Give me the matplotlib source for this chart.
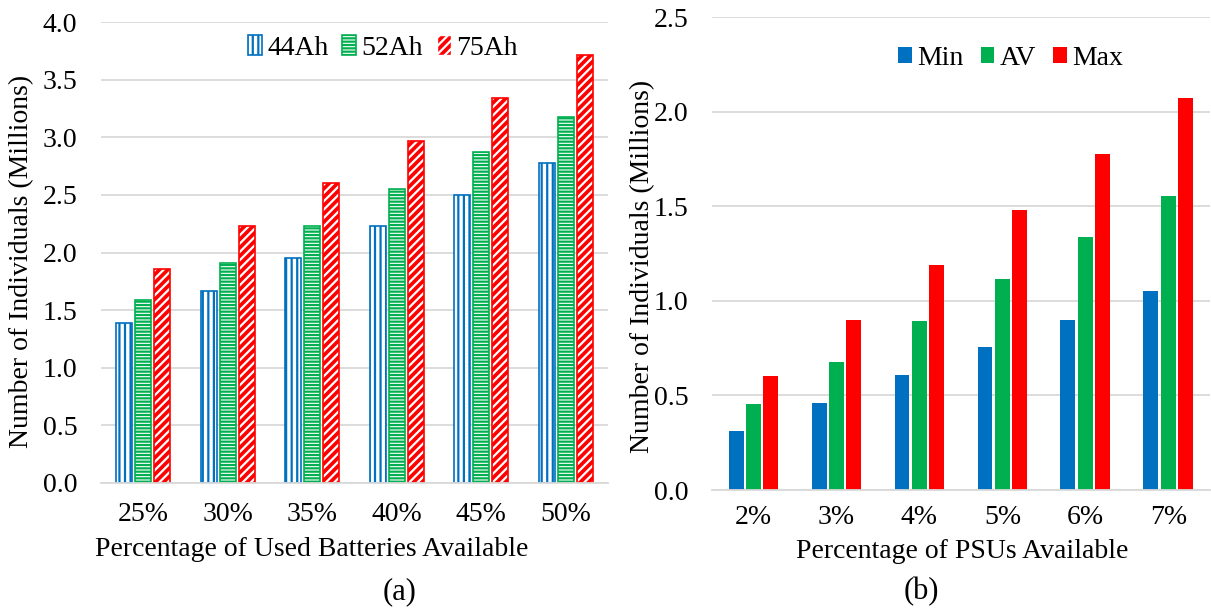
import numpy as np
import matplotlib
matplotlib.use('Agg')
from matplotlib import pyplot as plt

plt.rcParams['font.family'] = ['Liberation Serif', 'DejaVu Serif']
plt.rcParams['hatch.linewidth'] = 1.6

# (a) used batteries
bat_cats = ['25%', '30%', '35%', '40%', '45%', '50%']
ah44 = [1.39, 1.67, 1.95, 2.23, 2.50, 2.78]
ah52 = [1.59, 1.91, 2.23, 2.55, 2.87, 3.18]
ah75 = [1.86, 2.23, 2.60, 2.97, 3.34, 3.71]

# (b) PSUs
psu_cats = ['2%', '3%', '4%', '5%', '6%', '7%']
psu_min = [0.31, 0.46, 0.61, 0.755, 0.90, 1.05]
psu_av = [0.455, 0.675, 0.895, 1.115, 1.335, 1.555]
psu_max = [0.605, 0.90, 1.19, 1.48, 1.775, 2.07]

blue = '#0070C0'
green = '#00B050'
red = '#FF0000'
grid = '#D9D9D9'
fs = 20

fig = plt.figure(figsize=(12.11, 6.10), dpi=100)
ax1 = fig.add_axes([0.0834, 0.2082, 0.4187, 0.7557])
ax2 = fig.add_axes([0.588, 0.1967, 0.411, 0.7754])


def style(ax, ymax, pad):
    for s in ['left', 'right', 'top']:
        ax.spines[s].set_visible(False)
    ax.spines['bottom'].set_color(grid)
    ax.spines['bottom'].set_linewidth(1.3)
    ax.yaxis.grid(True, color=grid, linewidth=1.3)
    ax.set_axisbelow(True)
    ax.set_ylim(0, ymax)
    ax.set_yticks(np.arange(0, ymax + 0.01, 0.5))
    ax.yaxis.set_major_formatter(matplotlib.ticker.FormatStrFormatter('%.1f'))
    ax.tick_params(axis='both', length=0, labelsize=fs)
    ax.tick_params(axis='y', pad=17)
    ax.tick_params(axis='x', pad=pad)
    ax.set_xlim(-0.5, 5.5)


x = np.arange(len(bat_cats))
w = 0.19
off = 0.225
ax1.bar(x - off, ah44, w, facecolor='white', edgecolor=blue, hatch='|||', linewidth=1.2, label='44Ah')
ax1.bar(x, ah52, w, facecolor='white', edgecolor=green, hatch='-----', linewidth=1.2, label='52Ah')
ax1.bar(x + off, ah75, w, facecolor=red, edgecolor='white', hatch='////', linewidth=0)
ax1.bar(x + off, ah75, w, facecolor='none', edgecolor=red, linewidth=1.2)
h75 = matplotlib.patches.Patch(facecolor=red, edgecolor='white', hatch='////', label='75Ah')
style(ax1, 4.0, 14)
ax1.set_xticks(x)
ax1.set_xticklabels(bat_cats)
h, l = ax1.get_legend_handles_labels()
ax1.legend(h + [h75], l + ['75Ah'], loc='center', bbox_to_anchor=(0.556, 0.944), ncol=3,
           frameon=False, fontsize=fs, handlelength=0.5, handleheight=0.7,
           handletextpad=0.2, columnspacing=0.5)

x2 = np.arange(len(psu_cats))
w2 = 0.18
off2 = 0.21
ax2.bar(x2 - off2, psu_min, w2, color=blue, label='Min')
ax2.bar(x2, psu_av, w2, color=green, label='AV')
ax2.bar(x2 + off2, psu_max, w2, color=red, label='Max')
style(ax2, 2.5, 11)
ax2.set_xticks(x2)
ax2.set_xticklabels(psu_cats)
ax2.legend(loc='center', bbox_to_anchor=(0.60, 0.913), ncol=3, frameon=False,
           fontsize=fs, handlelength=0.5, handleheight=0.5,
           handletextpad=0.2, columnspacing=0.6)

fig.text(22 / 1211, 1 - 261 / 610, 'Number of Individuals (Millions)', rotation=90,
         ha='center', va='center', fontsize=fs)
fig.text(643 / 1211, 1 - 266 / 610, 'Number of Individuals (Millions)', rotation=90,
         ha='center', va='center', fontsize=fs)
fig.text(312 / 1211, 1 - 550 / 610, 'Percentage of Used Batteries Available',
         ha='center', va='center', fontsize=fs)
fig.text(962 / 1211, 1 - 552 / 610, 'Percentage of PSUs Available',
         ha='center', va='center', fontsize=fs)
fig.text(400 / 1211, 1 - 592 / 610, '(a)', ha='center', va='center', fontsize=fs + 2)
fig.text(921 / 1211, 1 - 592 / 610, '(b)', ha='center', va='center', fontsize=fs + 2)

fig.savefig('out.png', dpi=100)
